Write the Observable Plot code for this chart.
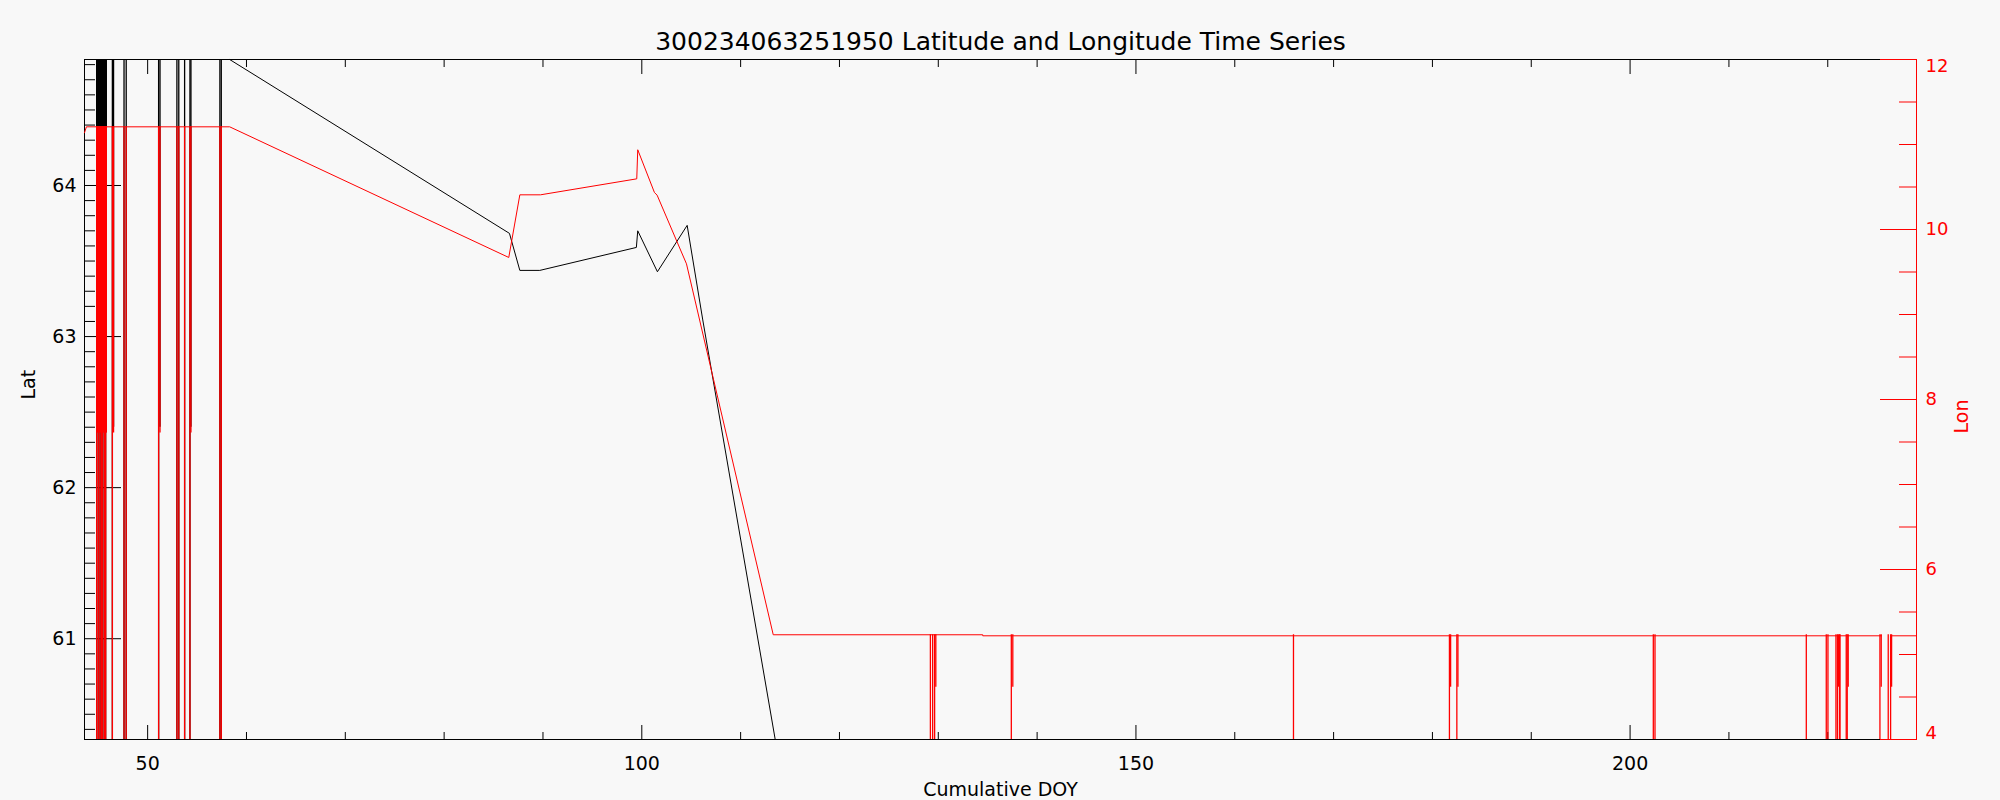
<!DOCTYPE html>
<html><head><meta charset="utf-8">
<script src="https://cdn.jsdelivr.net/npm/d3@7"></script>
<script src="https://cdn.jsdelivr.net/npm/@observablehq/plot@0.6"></script>
<style>
html,body{margin:0;padding:0;background:#f8f8f8;}
#chart{position:relative;width:2000px;height:800px;}
#chart svg{position:absolute;left:0;top:0;}
</style></head><body><div id="chart"></div>
<script>
const title = "300234063251950 Latitude and Longitude Time Series";
const xLabel = "Cumulative DOY";
const latLabel = "Lat";
const lonLabel = "Lon";

const xDomain = [43.61, 228.98];
const latDomain = [60.333, 64.834];
const lonDomain = [4, 12];

const xMajorTicks = [50, 100, 150, 200];
const xMinorTicks = [60, 70, 80, 90, 110, 120, 130, 140, 160, 170, 180, 190, 210, 220];
const latMajorTicks = [61, 62, 63, 64];
const latMinorTicks = d3.range(604, 649).filter(v => v % 10 !== 0).map(v => v / 10);
const lonMajorTicks = [4, 6, 8, 10, 12];
const lonMinorTicks = [4.5, 5, 5.5, 6.5, 7, 7.5, 8.5, 9, 9.5, 10.5, 11, 11.5];

// Latitude track (black)
const latDays   = [43.61, 58.30, 86.61, 87.66, 89.68, 99.45, 99.59, 101.58, 104.59, 106.17, 113.50, 228.98];
const latValues = [64.834, 64.834, 63.683, 63.438, 63.438, 63.590, 63.700, 63.429, 63.736, 63.110, 60.333, 60.333];

// Longitude track (red)
const lonDays   = [43.61, 43.80, 58.30, 86.54, 87.66, 89.75, 99.49, 99.59, 101.28, 101.55, 104.52, 113.30, 134.50, 134.50, 225.41, 225.90, 226.46, 228.98];
const lonValues = [11.138, 11.208, 11.208, 9.671, 10.408, 10.408, 10.596, 10.938, 10.435, 10.404, 9.596, 5.232, 5.232, 5.220, 5.220, NaN, 5.220, 5.220];

// Bad fixes (drop-outs)
const earlyLatLevel = 64.834;
const earlyLonLevel = 11.208;
const lateLonLevel = 5.232;
const dropValue = 0;
const earlyPartialLon = 7.605;
const earlyPartialLat = 62.4;
const latePartialLon = 4.615;

const earlyFullDays = [44.84, 45.01, 45.18, 45.32, 45.45, 45.62, 45.75, 46.43, 47.61, 47.83, 51.11, 52.96, 53.15, 53.74, 54.28, 57.31, 57.45];
const earlyPartialDays = [44.88, 44.95, 45.04, 45.11, 45.21, 45.27, 45.37, 45.44, 45.53, 45.60, 45.68, 45.77, 45.82, 46.55, 51.25, 54.38];
const lateFullDays = [129.20, 129.43, 129.63, 137.39, 165.94, 181.72, 182.47, 202.35, 202.52, 217.83, 219.85, 220.02, 220.83, 220.98, 221.19, 221.24, 221.87, 221.97, 225.28, 226.12, 226.36];
const latePartialDays = [129.75, 137.54, 181.84, 182.58, 221.08, 222.07, 225.41, 226.46];

const latTrack = latDays.map((d, i) => ({day: d, lat: latValues[i]}));
const lonTrack = lonDays.map((d, i) => ({day: d, lon: lonValues[i]}));
const earlySpikes = [
  ...earlyFullDays.map(d => ({day: d, latLow: dropValue, lonLow: dropValue})),
  ...earlyPartialDays.map(d => ({day: d, latLow: earlyPartialLat, lonLow: earlyPartialLon}))
];
const lateSpikes = [
  ...lateFullDays.map(d => ({day: d, lonLow: dropValue})),
  ...latePartialDays.map(d => ({day: d, lonLow: latePartialLon}))
];

const W = 2000, H = 800;
const margins = {marginTop: 59, marginBottom: 61, marginLeft: 84, marginRight: 84};
const font = "DejaVu Sans, sans-serif";
const blank = () => "";
const plain = d => `${d}`;

const latPlot = Plot.plot({
  width: W, height: H, ...margins,
  style: {background: "#f8f8f8", fontFamily: font, fontSize: "19px", color: "black"},
  x: {domain: xDomain, axis: null},
  y: {domain: latDomain, axis: null},
  marks: [
    Plot.ruleX(earlySpikes, {x: "day", y1: earlyLatLevel, y2: "latLow", stroke: "black", strokeWidth: 1.3, clip: true}),
    Plot.line(latTrack, {x: "day", y: "lat", stroke: "black", strokeWidth: 1}),
    Plot.frame({stroke: "black"}),
    Plot.axisX(xMajorTicks, {anchor: "bottom", tickSize: -14, tickFormat: blank, label: null}),
    Plot.axisX(xMinorTicks, {anchor: "bottom", tickSize: -7, tickFormat: blank, label: null}),
    Plot.axisX(xMajorTicks, {anchor: "top", tickSize: -14, tickFormat: blank, label: null}),
    Plot.axisX(xMinorTicks, {anchor: "top", tickSize: -7, tickFormat: blank, label: null}),
    Plot.axisX(xMajorTicks, {anchor: "bottom", tickSize: 0, tickPadding: 17, tickFormat: plain, fontSize: 19, label: null}),
    Plot.axisY(latMajorTicks, {anchor: "left", tickSize: -37, tickFormat: blank, label: null}),
    Plot.axisY(latMinorTicks, {anchor: "left", tickSize: -11, tickFormat: blank, label: null}),
    Plot.axisY(latMajorTicks, {anchor: "left", tickSize: 0, tickPadding: 8, tickFormat: plain, fontSize: 19, label: null}),
    Plot.text([title], {frameAnchor: "top", dy: -18, lineAnchor: "middle", fontSize: 25, fill: "black"}),
    Plot.text([xLabel], {frameAnchor: "bottom", dy: 50, lineAnchor: "middle", fontSize: 19, fill: "black"}),
    Plot.text([latLabel], {frameAnchor: "left", dx: -56, rotate: -90, lineAnchor: "middle", fontSize: 19, fill: "black"})
  ]
});

const lonPlot = Plot.plot({
  width: W, height: H, ...margins,
  style: {background: "transparent", fontFamily: font, fontSize: "18px", color: "red"},
  x: {domain: xDomain, axis: null},
  y: {domain: lonDomain, axis: null},
  marks: [
    Plot.ruleX(earlySpikes, {x: "day", y1: earlyLonLevel, y2: "lonLow", stroke: "red", strokeWidth: 1.3, clip: true}),
    Plot.ruleX(lateSpikes, {x: "day", y1: lateLonLevel, y2: "lonLow", stroke: "red", strokeWidth: 1.3, clip: true}),
    Plot.line(lonTrack, {x: "day", y: "lon", stroke: "red", strokeWidth: 1}),
    Plot.ruleX([xDomain[1]], {stroke: "red", strokeWidth: 1}),
    Plot.axisY(lonMajorTicks, {anchor: "right", tickSize: -37, tickFormat: blank, stroke: "red", label: null}),
    Plot.axisY(lonMinorTicks, {anchor: "right", tickSize: -18, tickFormat: blank, stroke: "red", label: null}),
    Plot.axisY([6, 8, 10], {anchor: "right", tickSize: 0, tickPadding: 9, tickFormat: plain, fill: "red", fontSize: 18, label: null}),
    Plot.axisY([12], {anchor: "right", tickSize: 0, tickPadding: 9, dy: 7, tickFormat: plain, fill: "red", fontSize: 18, label: null}),
    Plot.axisY([4], {anchor: "right", tickSize: 0, tickPadding: 9, dy: -6, tickFormat: plain, fill: "red", fontSize: 18, label: null}),
    Plot.text([lonLabel], {frameAnchor: "right", dx: 45.5, rotate: -90, lineAnchor: "middle", fontSize: 19, fill: "red"})
  ]
});

const chart = document.getElementById("chart");
chart.appendChild(latPlot);
chart.appendChild(lonPlot);
</script>
</body></html>
